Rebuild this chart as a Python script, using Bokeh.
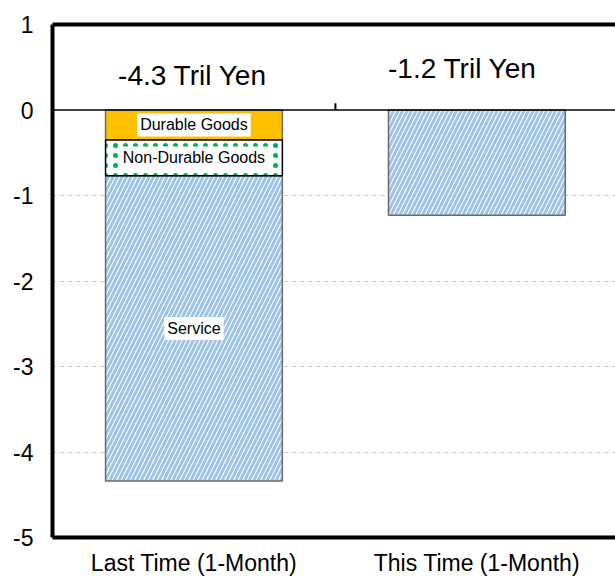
import numpy as np
from bokeh.plotting import figure
from bokeh.models import (ColumnDataSource, Span, FixedTicker, LinearAxis, Range1d)
from bokeh.core.properties import value
from bokeh.embed import file_html
from bokeh.resources import INLINE

# ---- data ----
categories = ["Last Time (1-Month)", "This Time (1-Month)"]
durable_goods = [-0.35, 0.0]
non_durable_goods = [-0.42, 0.0]
service = [-3.57, -1.23]
total_labels = ["-4.3 Tril Yen", "-1.2 Tril Yen"]
y_ticks = [-5, -4, -3, -2, -1, 0, 1]
y_tick_labels = ["-5", "-4", "-3", "-2", "-1", "0", "1"]

# ---- positions ----
xc = np.array([0.5, 1.5])          # category centres
bar_w = 0.625
d_top = np.zeros(2)
d_bot = d_top + np.array(durable_goods)
n_bot = d_bot + np.array(non_durable_goods)
s_bot = n_bot + np.array(service)

FONT = "Liberation Sans"

p = figure(width=615, height=578, output_backend="svg", toolbar_location=None,
           x_range=Range1d(0, 1.99), y_range=Range1d(-5, 1),
           min_border_left=52, min_border_right=0, min_border_top=24, min_border_bottom=41)
p.outline_line_color = None
p.background_fill_color = "white"
p.border_fill_color = "white"

# grid
p.xgrid.visible = False
p.ygrid.ticker = FixedTicker(ticks=[-4, -3, -2, -1])
p.ygrid.grid_line_color = "#c8c8c8"
p.ygrid.grid_line_dash = "4 4"
p.ygrid.grid_line_width = 1

# service (all bars)
svc = ColumnDataSource(dict(x=xc, top=n_bot, bottom=s_bot))
p.vbar(x="x", top="top", bottom="bottom", width=bar_w, source=svc,
       fill_color="white", hatch_pattern="/", hatch_color="#9cc3ea",
       hatch_scale=9, hatch_weight=3, line_color="#6b6b6b", line_width=1.5)

# durable / non-durable only where nonzero
mask = np.array(durable_goods) != 0
dur = ColumnDataSource(dict(x=xc[mask], top=d_top[mask], bottom=d_bot[mask]))
p.vbar(x="x", top="top", bottom="bottom", width=bar_w, source=dur,
       fill_color="#FFC000", line_color="#6b6b6b", line_width=1.5)
mask2 = np.array(non_durable_goods) != 0
nd = ColumnDataSource(dict(x=xc[mask2], top=d_bot[mask2], bottom=n_bot[mask2]))
p.vbar(x="x", top="top", bottom="bottom", width=bar_w, source=nd,
       fill_color="white", hatch_pattern=".", hatch_color="#00B050",
       hatch_scale=10, hatch_weight=1.5, line_color="black", line_width=1.5)

# zero line and boundary tick
p.add_layout(Span(location=0, dimension="width", line_color="black", line_width=1.5))
p.segment(x0=[1.0], y0=[0], x1=[1.0], y1=[0.08], line_color="black", line_width=2)

# segment labels
seg_src = ColumnDataSource(dict(
    x=[xc[0], xc[0], xc[0]],
    y=[(d_top[0] + d_bot[0]) / 2, (d_bot[0] + n_bot[0]) / 2, (n_bot[0] + s_bot[0]) / 2],
    t=["Durable Goods", "Non-Durable Goods", "Service"]))
p.text(x="x", y="y", text="t", source=seg_src, text_align="center",
       text_baseline="middle", text_font=value(FONT), text_font_size="16px",
       text_color="black", background_fill_color="white", padding=3)

# total labels
tot_src = ColumnDataSource(dict(x=[0.495, 1.449], y=[0.40, 0.49], t=total_labels))
p.text(x="x", y="y", text="t", source=tot_src, text_align="center",
       text_baseline="middle", text_font=value(FONT), text_font_size="28px",
       text_color="black")

# axes
p.yaxis.ticker = FixedTicker(ticks=y_ticks)
p.yaxis.major_label_overrides = {t: s for t, s in zip(y_ticks, y_tick_labels)}
p.yaxis.axis_line_width = 4
p.yaxis.axis_line_color = "black"
p.yaxis.major_tick_line_color = None
p.yaxis.minor_tick_line_color = None
p.yaxis.major_label_text_font = FONT
p.yaxis.major_label_text_font_size = "23px"
p.yaxis.major_label_text_color = "black"
p.yaxis.major_label_standoff = 13

p.xaxis.ticker = FixedTicker(ticks=list(xc))
p.xaxis.major_label_overrides = {float(x): c for x, c in zip(xc, categories)}
p.xaxis.axis_line_width = 4
p.xaxis.axis_line_color = "black"
p.xaxis.major_tick_line_color = None
p.xaxis.minor_tick_line_color = None
p.xaxis.major_label_text_font = FONT
p.xaxis.major_label_text_font_size = "23px"
p.xaxis.major_label_text_color = "black"
p.xaxis.major_label_standoff = 6

top_axis = LinearAxis(ticker=FixedTicker(ticks=[]), axis_line_width=4, axis_line_color="black",
                      major_tick_line_color=None, minor_tick_line_color=None,
                      major_label_text_font_size="0px", major_label_standoff=0,
                      major_tick_out=0, minor_tick_out=0)
p.add_layout(top_axis, "above")

open("out.html", "w").write(file_html(p, INLINE))
